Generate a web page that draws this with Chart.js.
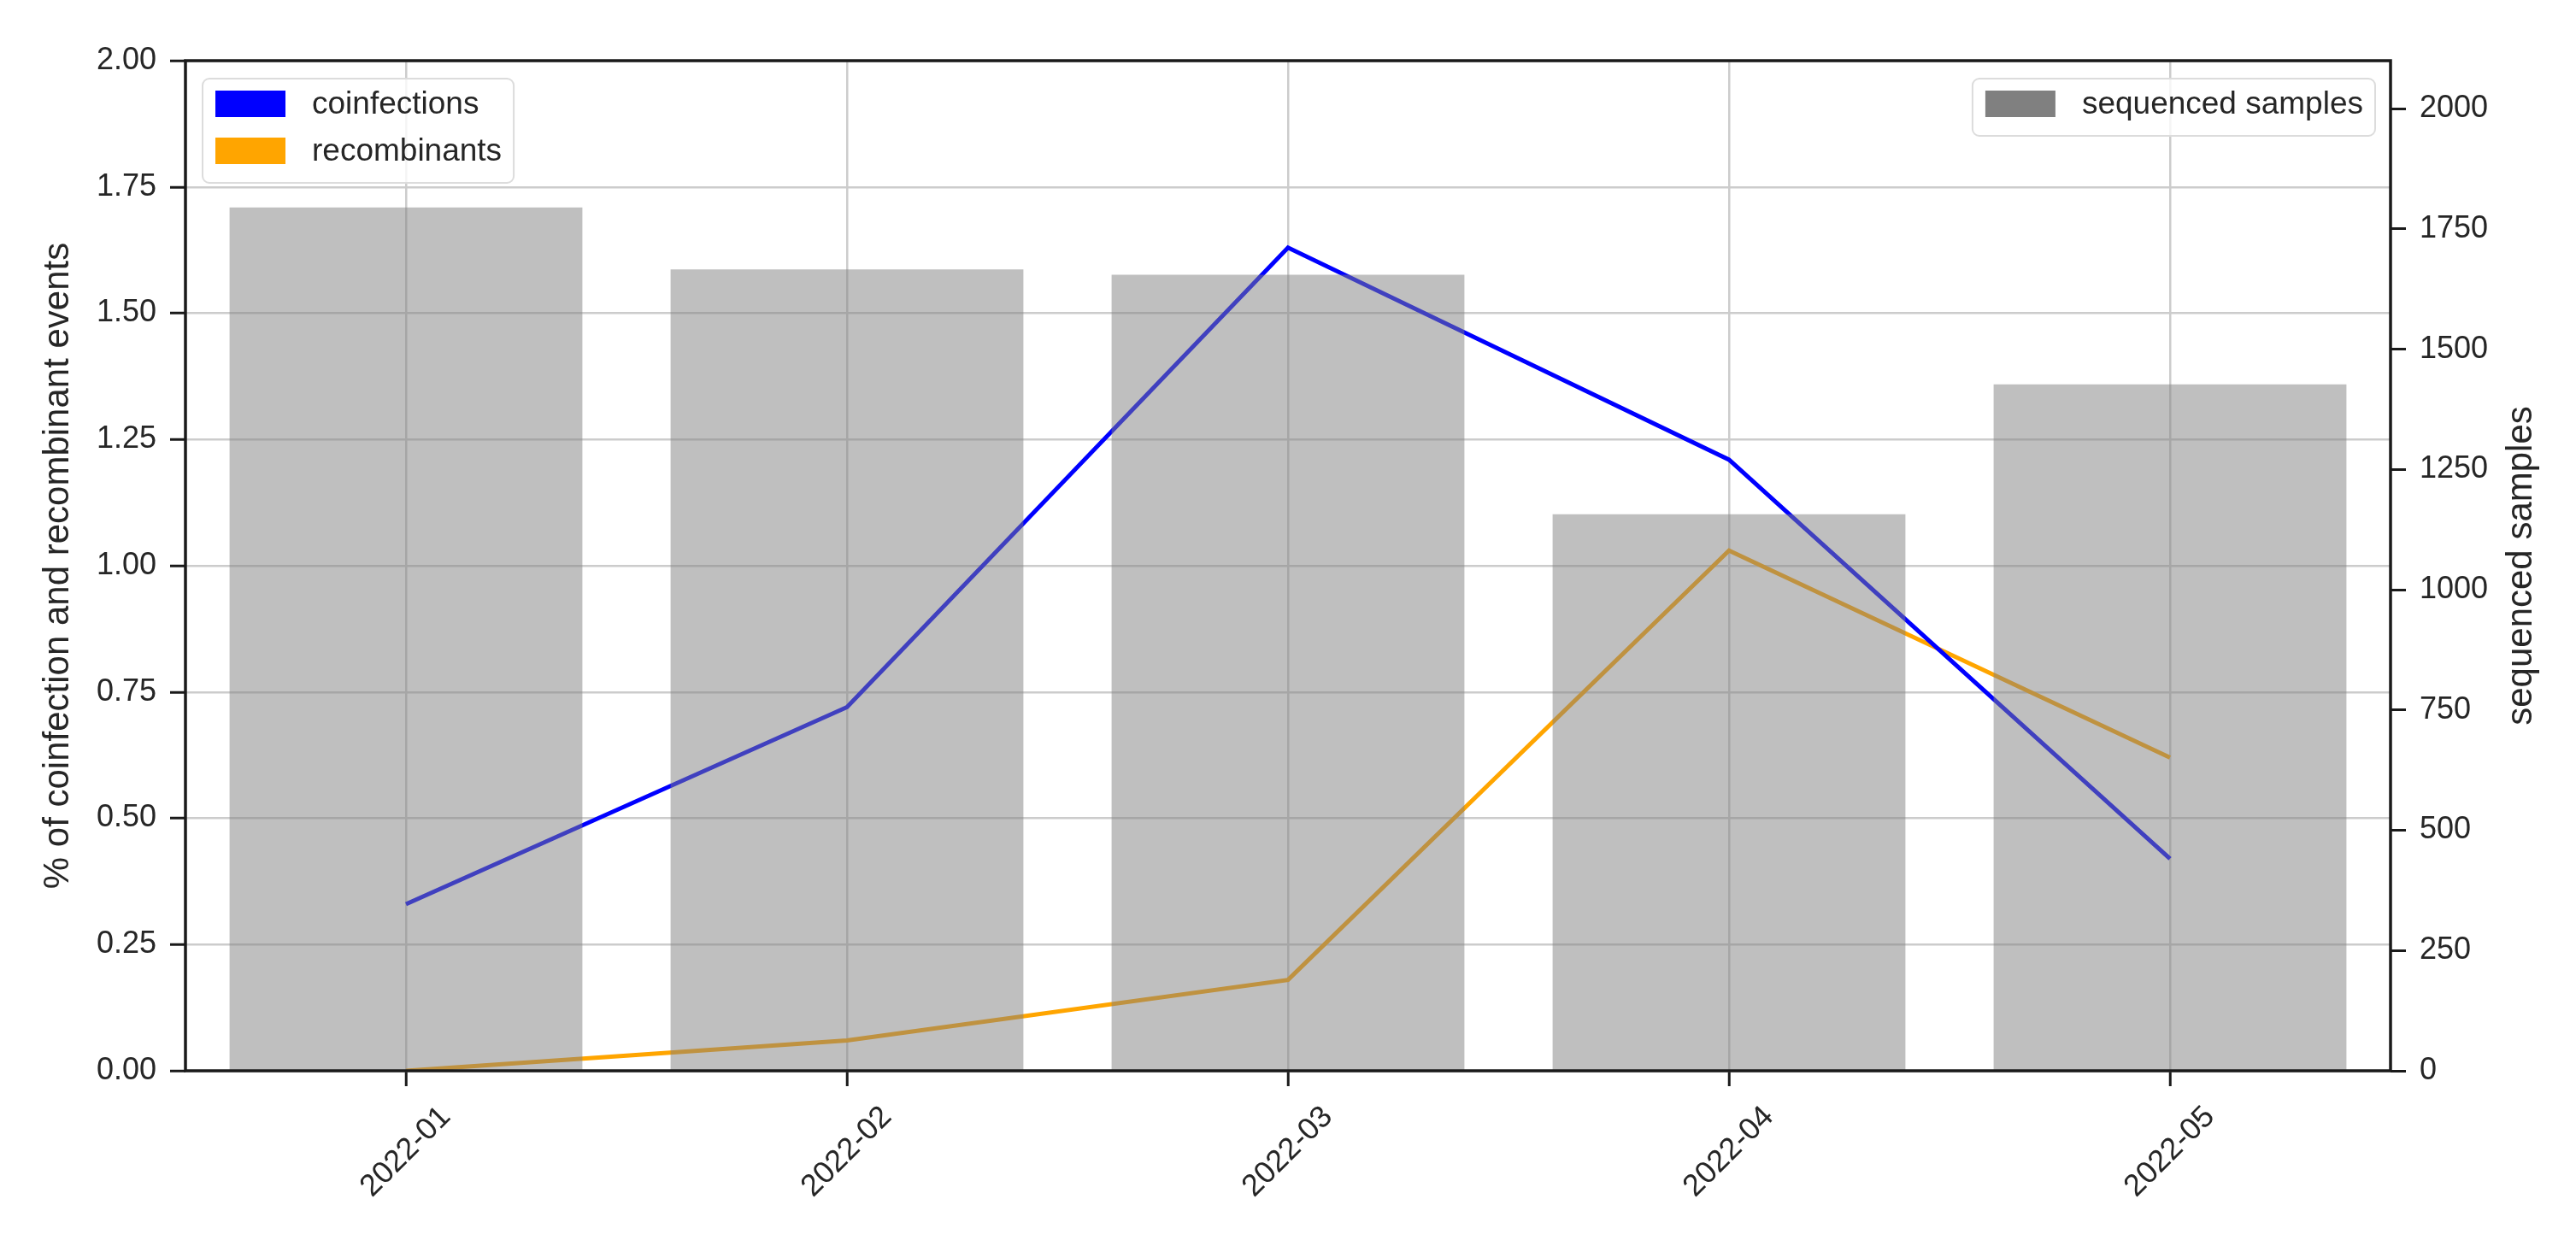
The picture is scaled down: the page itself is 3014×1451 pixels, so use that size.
<!DOCTYPE html>
<html>
<head>
<meta charset="utf-8">
<script src="https://cdn.jsdelivr.net/npm/chart.js@4"></script>
<style>
  body { margin: 0; background: #fff; }
  #wrap { width: 3014px; height: 1451px; }
</style>
</head>
<body>
<div id="wrap"><canvas id="myChart"></canvas></div>
<script>
var months = ['2022-01', '2022-02', '2022-03', '2022-04', '2022-05'];
var coinfections = [0.33, 0.72, 1.63, 1.21, 0.42];
var recombinants = [0.00, 0.06, 0.18, 1.03, 0.62];
var sequenced = [1795, 1666, 1655, 1157, 1427];
var leftTicks = [0, 0.25, 0.5, 0.75, 1.0, 1.25, 1.5, 1.75, 2.0];
var rightTicks = [0, 250, 500, 750, 1000, 1250, 1500, 1750, 2000];

var FONT = '"Liberation Sans", Arial, sans-serif';
var TEXT = '#262626';

function drawLegend(ctx, x, y, items, alignRight) {
    ctx.save();
    ctx.font = '37px ' + FONT;
    var w = 0;
    items.forEach(function (it) { w = Math.max(w, ctx.measureText(it.label).width); });
    var boxW = 82, boxH = 31, gap = 31, padL = 15, padR = 14, padT = 14, padB = 22, rowH = 55;
    var fw = padL + boxW + gap + w + padR;
    var fh = padT + boxH + (items.length - 1) * rowH + padB;
    if (alignRight) x = x - fw;
    ctx.beginPath();
    ctx.roundRect(x, y, fw, fh, 8);
    ctx.fillStyle = 'rgba(255,255,255,0.8)';
    ctx.fill();
    ctx.strokeStyle = '#dcdcdc';
    ctx.lineWidth = 2;
    ctx.stroke();
    items.forEach(function (it, i) {
        var by = y + padT + i * rowH;
        ctx.fillStyle = it.color;
        ctx.fillRect(x + padL, by, boxW, boxH);
        ctx.fillStyle = TEXT;
        ctx.textBaseline = 'middle';
        ctx.textAlign = 'left';
        ctx.fillText(it.label, x + padL + boxW + gap, by + boxH / 2 + 1);
    });
    ctx.restore();
}

var extras = {
    id: 'extras',
    afterDraw: function (chart) {
        var ctx = chart.ctx;
        var a = chart.chartArea;
        // frame
        ctx.save();
        ctx.strokeStyle = '#1a1a1a';
        ctx.lineWidth = 3.5;
        ctx.strokeRect(a.left, a.top, a.right - a.left, a.bottom - a.top);
        ctx.restore();

        // x labels, rotated and centred on the tick
        var xs = chart.scales.x;
        ctx.save();
        ctx.font = '36px ' + FONT;
        ctx.fillStyle = TEXT;
        ctx.textAlign = 'center';
        ctx.textBaseline = 'middle';
        months.forEach(function (m, i) {
            ctx.save();
            ctx.translate(xs.getPixelForValue(i), a.bottom + 95);
            ctx.rotate(-Math.PI / 4);
            ctx.fillText(m, 0, 0);
            ctx.restore();
        });
        ctx.restore();

        // axis titles
        ctx.save();
        ctx.font = '42px ' + FONT;
        ctx.fillStyle = TEXT;
        ctx.textAlign = 'center';
        ctx.textBaseline = 'middle';
        var cy = (a.top + a.bottom) / 2;
        ctx.save();
        ctx.translate(68, cy);
        ctx.rotate(-Math.PI / 2);
        ctx.fillText('% of coinfection and recombinant events', 0, 0);
        ctx.restore();
        ctx.save();
        ctx.translate(2950, cy);
        ctx.rotate(-Math.PI / 2);
        ctx.fillText('sequenced samples', 0, 0);
        ctx.restore();
        ctx.restore();

        drawLegend(ctx, a.left + 20, a.top + 21, [
            { label: 'coinfections', color: '#0000ff' },
            { label: 'recombinants', color: '#ffa500' }
        ], false);
        drawLegend(ctx, a.right - 18, a.top + 21, [
            { label: 'sequenced samples', color: '#808080' }
        ], true);
    }
};

var ctx = document.getElementById('myChart').getContext('2d');
var myChart = new Chart(ctx, {
    type: 'bar',
    data: {
        labels: months,
        datasets: [{
            type: 'bar',
            label: 'sequenced samples',
            data: sequenced,
            yAxisID: 'y2',
            backgroundColor: 'rgba(128,128,128,0.5)',
            borderWidth: 0,
            categoryPercentage: 0.8,
            barPercentage: 1.0,
            order: 0
        }, {
            type: 'line',
            label: 'coinfections',
            data: coinfections,
            yAxisID: 'y',
            borderColor: '#0000ff',
            borderWidth: 5,
            pointRadius: 0,
            tension: 0,
            fill: false,
            order: 1
        }, {
            type: 'line',
            label: 'recombinants',
            data: recombinants,
            yAxisID: 'y',
            borderColor: '#ffa500',
            borderWidth: 5,
            pointRadius: 0,
            tension: 0,
            fill: false,
            order: 2
        }]
    },
    options: {
        responsive: true,
        maintainAspectRatio: false,
        devicePixelRatio: 1,
        animation: false,
        layout: { padding: { top: 71, left: 0, right: 0, bottom: 0 } },
        plugins: { legend: { display: false }, tooltip: { enabled: false } },
        scales: {
            x: {
                offset: true,
                grid: { offset: false, color: '#cccccc', lineWidth: 2.5, tickColor: '#1a1a1a', tickWidth: 3, tickLength: 18 },
                border: { display: false },
                ticks: { color: 'rgba(0,0,0,0)', font: { size: 36, family: FONT }, maxRotation: 45, minRotation: 45 },
                afterFit: function (s) { s.height = 198; }
            },
            y: {
                position: 'left',
                min: 0,
                max: 2,
                afterBuildTicks: function (s) { s.ticks = leftTicks.map(function (v) { return { value: v }; }); },
                grid: { color: '#cccccc', lineWidth: 2.5, tickColor: '#1a1a1a', tickWidth: 3, tickLength: 18 },
                border: { display: false },
                ticks: {
                    color: TEXT, padding: 16,
                    font: { size: 36, family: FONT },
                    callback: function (v) { return Number(v).toFixed(2); }
                },
                afterFit: function (s) { s.width = 217; }
            },
            y2: {
                position: 'right',
                min: 0,
                max: 2100,
                afterBuildTicks: function (s) { s.ticks = rightTicks.map(function (v) { return { value: v }; }); },
                grid: { drawOnChartArea: false, tickColor: '#1a1a1a', tickWidth: 3, tickLength: 18 },
                border: { display: false },
                ticks: {
                    color: TEXT, padding: 16,
                    font: { size: 36, family: FONT },
                    callback: function (v) { return String(v); }
                },
                afterFit: function (s) { s.width = 217; }
            }
        }
    },
    plugins: [extras]
});
</script>
</body>
</html>
